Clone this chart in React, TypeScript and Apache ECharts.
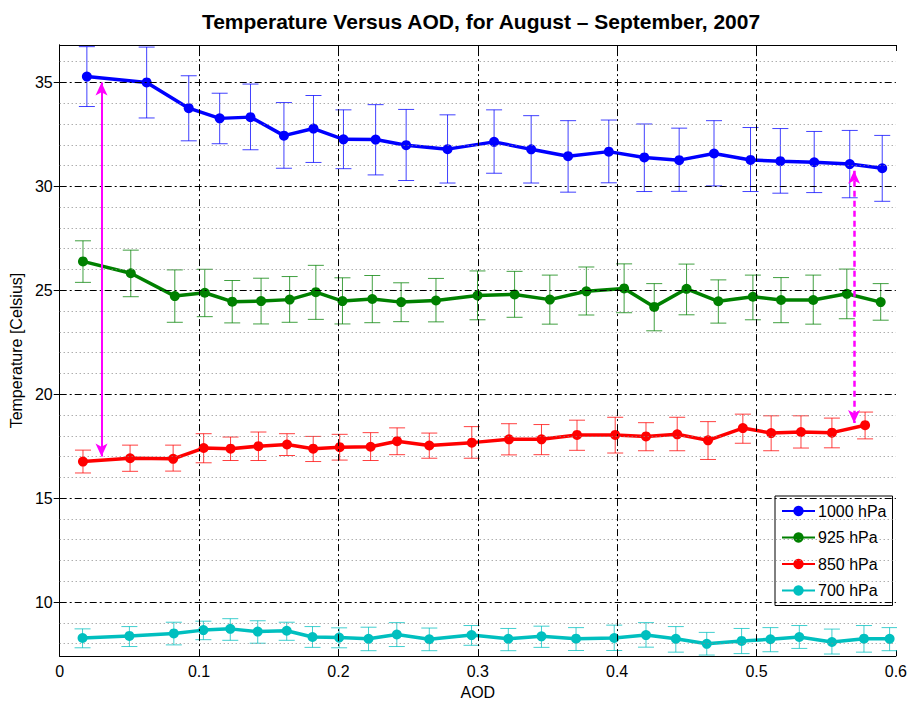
import React, { useEffect, useRef } from 'react';
import * as echarts from 'echarts';

const TITLE = 'Temperature Versus AOD, for August \u2013 September, 2007';
const X_NAME = 'AOD';
const Y_NAME = 'Temperature [Celsius]';

const X_MIN = 0;
const X_MAX = 0.6;
const X_STEP = 0.1;
const Y_MIN = 7.4;
const Y_MAX = 36.8;
const Y_MAJOR = [10, 15, 20, 25, 30, 35];
const Y_MINOR = [8, 9, 11, 12, 13, 14, 16, 17, 18, 19, 21, 22, 23, 24, 26, 27, 28, 29, 31, 32, 33, 34, 36];
const X_GRID = [0.1, 0.2, 0.3, 0.4, 0.5];

const SERIES_NAMES = ['1000 hPa', '925 hPa', '850 hPa', '700 hPa'];
const COLORS = ['#0000FF', '#008000', '#FF0000', '#00BFBF'];

const AOD_1000 = [0.0195, 0.0624, 0.0926, 0.1148, 0.1369, 0.1609, 0.1821, 0.2036, 0.2267, 0.2486, 0.2783, 0.3117, 0.3383, 0.3648, 0.394, 0.4195, 0.4445, 0.4695, 0.4957, 0.5171, 0.5414, 0.5669, 0.5902];
const T_1000 = [35.28, 35.0, 33.76, 33.27, 33.33, 32.44, 32.78, 32.26, 32.25, 31.98, 31.79, 32.14, 31.78, 31.45, 31.67, 31.39, 31.26, 31.58, 31.27, 31.21, 31.16, 31.07, 30.87];
const LO_1000 = [33.84, 33.29, 32.19, 32.05, 31.76, 30.87, 31.15, 30.85, 30.55, 30.28, 30.16, 30.63, 30.16, 29.72, 30.17, 29.75, 29.76, 30.02, 29.75, 29.67, 29.7, 29.45, 29.28];
const HI_1000 = [36.72, 36.7, 35.32, 34.48, 34.92, 34.03, 34.37, 33.68, 33.93, 33.7, 33.44, 33.68, 33.4, 33.16, 33.19, 33.0, 32.8, 33.16, 32.83, 32.78, 32.64, 32.69, 32.45];

const AOD_925 = [0.0167, 0.051, 0.0826, 0.1041, 0.1238, 0.1445, 0.165, 0.1838, 0.2029, 0.2243, 0.245, 0.27, 0.2998, 0.3264, 0.3517, 0.3779, 0.405, 0.4266, 0.4498, 0.4726, 0.4974, 0.5176, 0.5407, 0.5648, 0.5891];
const T_925 = [26.39, 25.82, 24.72, 24.88, 24.45, 24.48, 24.55, 24.91, 24.48, 24.58, 24.43, 24.51, 24.75, 24.8, 24.55, 24.95, 25.09, 24.2, 25.07, 24.47, 24.69, 24.53, 24.53, 24.83, 24.43];
const LO_925 = [25.38, 24.69, 23.46, 23.73, 23.43, 23.38, 23.46, 23.6, 23.38, 23.44, 23.49, 23.48, 23.58, 23.7, 23.37, 23.81, 23.92, 23.05, 23.82, 23.42, 23.58, 23.44, 23.37, 23.63, 23.56];
const HI_925 = [27.38, 26.93, 25.98, 26.01, 25.47, 25.58, 25.66, 26.2, 25.6, 25.71, 25.36, 25.57, 25.93, 25.91, 25.73, 26.12, 26.27, 25.32, 26.26, 25.5, 25.73, 25.61, 25.73, 26.02, 25.32];

const AOD_850 = [0.0167, 0.0505, 0.0814, 0.1033, 0.1226, 0.1426, 0.1631, 0.1819, 0.2009, 0.2231, 0.2421, 0.2652, 0.2957, 0.3224, 0.3457, 0.3712, 0.3986, 0.4207, 0.4431, 0.4652, 0.4902, 0.5105, 0.5319, 0.5541, 0.5779];
const T_850 = [16.76, 16.92, 16.89, 17.41, 17.38, 17.5, 17.58, 17.38, 17.45, 17.47, 17.74, 17.53, 17.67, 17.83, 17.83, 18.04, 18.04, 17.97, 18.07, 17.78, 18.37, 18.13, 18.18, 18.15, 18.51];
const LO_850 = [16.21, 16.29, 16.3, 16.7, 16.81, 16.81, 17.05, 16.76, 16.83, 16.81, 17.09, 16.92, 16.92, 17.08, 17.09, 17.3, 17.17, 17.28, 17.28, 16.86, 17.64, 17.28, 17.41, 17.42, 17.85];
const HI_850 = [17.31, 17.55, 17.55, 18.1, 17.94, 18.18, 18.1, 17.97, 18.07, 18.15, 18.38, 18.13, 18.44, 18.58, 18.54, 18.75, 18.89, 18.63, 18.89, 18.68, 19.04, 18.96, 18.96, 18.85, 19.14];

const AOD_700 = [0.0164, 0.05, 0.0819, 0.1031, 0.1224, 0.1421, 0.1629, 0.1814, 0.2005, 0.2216, 0.2419, 0.2652, 0.2955, 0.3219, 0.3457, 0.3705, 0.3979, 0.4207, 0.4421, 0.4643, 0.4893, 0.51, 0.5307, 0.5541, 0.5771, 0.5955];
const T_700 = [8.27, 8.37, 8.49, 8.65, 8.71, 8.58, 8.62, 8.32, 8.29, 8.23, 8.44, 8.21, 8.41, 8.23, 8.35, 8.24, 8.27, 8.41, 8.23, 7.99, 8.13, 8.21, 8.32, 8.08, 8.24, 8.23];
const LO_700 = [7.8, 7.86, 7.94, 8.19, 8.16, 8.02, 8.16, 7.82, 7.8, 7.66, 7.86, 7.66, 7.92, 7.66, 7.82, 7.67, 7.67, 7.83, 7.59, 7.45, 7.52, 7.61, 7.77, 7.5, 7.59, 7.66];
const HI_700 = [8.71, 8.82, 9.03, 9.08, 9.2, 9.1, 9.03, 8.82, 8.76, 8.79, 9.01, 8.75, 8.87, 8.73, 8.84, 8.77, 8.89, 9.01, 8.82, 8.54, 8.73, 8.77, 8.87, 8.7, 8.87, 8.77];

// arrows: [AOD, y start, y end]
const ARROW_SOLID = [0.03, 35.0, 17.0];
const ARROW_DASHED = [0.57, 30.75, 18.62];

const FONT = '"Liberation Sans", Arial, Helvetica, sans-serif';
const FS = 16;

const GROUPS = [
  [AOD_1000, T_1000, LO_1000, HI_1000],
  [AOD_925, T_925, LO_925, HI_925],
  [AOD_850, T_850, LO_850, HI_850],
  [AOD_700, T_700, LO_700, HI_700],
];

const DASH_DOT = [7, 3, 2, 3];

function errRender(color: string) {
  return (params: any, api: any) => {
    const x = api.value(0);
    const lo = api.coord([x, api.value(1)]);
    const hi = api.coord([x, api.value(2)]);
    const w = 8;
    const style = { stroke: color, lineWidth: 1, opacity: 0.75 };
    return {
      type: 'group',
      children: [
        { type: 'line', shape: { x1: lo[0], y1: lo[1], x2: hi[0], y2: hi[1] }, style },
        { type: 'line', shape: { x1: lo[0] - w, y1: lo[1], x2: lo[0] + w, y2: lo[1] }, style },
        { type: 'line', shape: { x1: hi[0] - w, y1: hi[1], x2: hi[0] + w, y2: hi[1] }, style },
      ],
    };
  };
}

export default function App() {
  const ref = useRef<HTMLDivElement>(null);
  useEffect(() => {
    if (!ref.current) return;
    const chart = echarts.init(ref.current, null, { renderer: 'svg' });
    const series: any[] = [];

    series.push({
      type: 'line',
      data: [],
      silent: true,
      z: 1,
      markLine: {
        silent: true,
        symbol: 'none',
        label: { show: false },
        animation: false,
        data: [
          ...Y_MINOR.map((v) => ({ yAxis: v, lineStyle: { color: '#8a8a8a', width: 1, type: [1, 3] } })),
          ...Y_MAJOR.map((v) => ({ yAxis: v, lineStyle: { color: '#000', width: 1, type: DASH_DOT } })),
          ...X_GRID.map((v) => ({ xAxis: v, lineStyle: { color: '#000', width: 1, type: DASH_DOT } })),
        ],
      },
    });

    GROUPS.forEach((g, i) => {
      const [xs, ys, los, his] = g;
      series.push({
        type: 'custom',
        name: SERIES_NAMES[i] + ' err',
        renderItem: errRender(COLORS[i]),
        data: xs.map((x, k) => [x, los[k], his[k]]),
        encode: { x: 0, y: [1, 2] },
        clip: true,
        silent: true,
        z: 2,
      });
    });

    GROUPS.forEach((g, i) => {
      const [xs, ys] = g;
      series.push({
        type: 'line',
        name: SERIES_NAMES[i],
        data: xs.map((x, k) => [x, ys[k]]),
        symbol: 'circle',
        symbolSize: 10,
        showSymbol: true,
        lineStyle: { color: COLORS[i], width: 3.5 },
        itemStyle: { color: COLORS[i] },
        z: 3,
      });
    });

    series.push({
      type: 'line',
      data: [],
      silent: true,
      z: 5,
      markLine: {
        silent: true,
        symbol: ['arrow', 'arrow'],
        symbolSize: [9, 13],
        label: { show: false },
        animation: false,
        data: [
          [
            { coord: [ARROW_SOLID[0], ARROW_SOLID[1]], lineStyle: { color: '#FF00FF', width: 2, type: 'solid' } },
            { coord: [ARROW_SOLID[0], ARROW_SOLID[2]] },
          ],
          [
            { coord: [ARROW_DASHED[0], ARROW_DASHED[1]], lineStyle: { color: '#FF00FF', width: 2.5, type: [6, 4] } },
            { coord: [ARROW_DASHED[0], ARROW_DASHED[2]] },
          ],
        ],
      },
    });

    const axisLine = { show: true, lineStyle: { color: '#000', width: 1 } };
    chart.setOption({
      animation: false,
      backgroundColor: '#fff',
      graphic: [
        {
          type: 'text',
          x: 481,
          y: 21,
          style: {
            text: TITLE,
            fontFamily: FONT,
            fontSize: 21,
            fontWeight: 'bold',
            fill: '#000',
            align: 'center',
            verticalAlign: 'middle',
          },
        },
      ],
      grid: { left: 57, right: 13, top: 45, bottom: 38, containLabel: false },
      legend: {
        data: SERIES_NAMES,
        orient: 'vertical',
        left: 775,
        top: 496,
        width: 114,
        padding: [7, 6, 7, 6],
        itemGap: 10.5,
        itemWidth: 33,
        itemHeight: 13,
        backgroundColor: '#fff',
        borderColor: '#000',
        borderWidth: 1,
        borderRadius: 0,
        textStyle: { fontFamily: FONT, fontSize: FS, color: '#000', padding: [0, 0, 0, -2] },
      },
      xAxis: [
        {
          type: 'value',
          min: X_MIN,
          max: X_MAX,
          interval: X_STEP,
          name: X_NAME,
          nameLocation: 'middle',
          nameGap: 20,
          nameTextStyle: { fontFamily: FONT, fontSize: FS, color: '#000' },
          axisLine,
          axisTick: { show: true, inside: true, length: 6, lineStyle: { color: '#000' } },
          axisLabel: {
            fontFamily: FONT,
            fontSize: FS,
            color: '#000',
            margin: 7,
            formatter: (v: number) => (Math.round(v * 10) / 10).toString(),
          },
          splitLine: { show: false },
        },
        {
          type: 'value',
          position: 'top',
          min: X_MIN,
          max: X_MAX,
          interval: X_STEP,
          axisLine,
          axisTick: { show: true, inside: true, length: 6, lineStyle: { color: '#000' } },
          axisLabel: { show: false },
          splitLine: { show: false },
        },
      ],
      yAxis: [
        {
          type: 'value',
          min: Y_MIN,
          max: Y_MAX,
          name: Y_NAME,
          nameLocation: 'middle',
          nameGap: 27,
          nameRotate: 90,
          nameTextStyle: { fontFamily: FONT, fontSize: FS, color: '#000' },
          axisLine,
          axisTick: { show: true, inside: true, length: 6, customValues: Y_MAJOR, lineStyle: { color: '#000' } },
          axisLabel: { fontFamily: FONT, fontSize: FS, color: '#000', margin: 7, customValues: Y_MAJOR },
          splitLine: { show: false },
        },
        {
          type: 'value',
          position: 'right',
          min: Y_MIN,
          max: Y_MAX,
          axisLine,
          axisTick: { show: true, inside: true, length: 6, customValues: Y_MAJOR, lineStyle: { color: '#000' } },
          axisLabel: { show: false, customValues: Y_MAJOR },
          splitLine: { show: false },
        },
      ],
      series,
    });
    return () => chart.dispose();
  }, []);
  return (
    <div
      ref={ref}
      style={{ position: 'fixed', left: 0, top: 0, width: 910, height: 705, background: '#fff' }}
    />
  );
}
